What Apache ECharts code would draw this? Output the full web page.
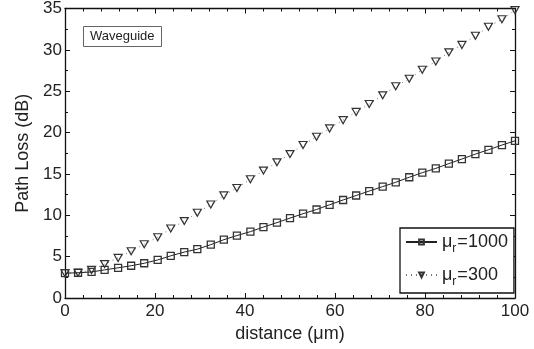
<!DOCTYPE html>
<html>
<head>
<meta charset="utf-8">
<script src="https://cdn.jsdelivr.net/npm/echarts@6/dist/echarts.min.js"></script>
<style>
  html, body { margin: 0; padding: 0; background: #fff; }
  #chart { width: 534px; height: 349px; }
</style>
</head>
<body>
<div id="chart"></div>
<script>
// sample positions along the guide (um)
const distance = [0, 2.9, 5.9, 8.8, 11.8, 14.7, 17.6, 20.6, 23.5, 26.5, 29.4, 32.4,
  35.3, 38.2, 41.2, 44.1, 47.1, 50, 52.9, 55.9, 58.8, 61.8, 64.7, 67.6, 70.6,
  73.5, 76.5, 79.4, 82.4, 85.3, 88.2, 91.2, 94.1, 97.1, 100]

// path loss (dB)
const lossMu1000 = [3.0, 3.05, 3.15, 3.4, 3.65, 3.9, 4.2, 4.6, 5.1, 5.55, 5.9, 6.45,
  7.05, 7.55, 8.02, 8.58, 9.11, 9.66, 10.19, 10.7, 11.27, 11.85, 12.39, 12.93, 13.47,
  13.99, 14.6, 15.15, 15.67, 16.25, 16.8, 17.4, 17.92, 18.49, 19.0]
const lossMu300 = [3.0, 3.05, 3.4, 4.1, 4.85, 5.65, 6.5, 7.35, 8.4, 9.3, 10.3, 11.3,
  12.4, 13.3, 14.35, 15.4, 16.4, 17.4, 18.5, 19.5, 20.5, 21.5, 22.5, 23.45, 24.5,
  25.6, 26.5, 27.6, 28.6, 29.7, 30.6, 31.7, 32.8, 33.7, 34.8]

const seriesNames = ['mu1000', 'mu300']
const legendValues = { mu1000: '1000', mu300: '300' }

const FONT = 'Liberation Sans, Arial, Helvetica, sans-serif'
const TEXT = '#222'

const chart = echarts.init(document.getElementById('chart'))

function pairs(xs, ys) {
  return xs.map((x, i) => [x, ys[i]])
}

const tickCommon = {
  axisLine: { show: true, onZero: false, lineStyle: { color: '#111', width: 1.3 } },
  axisTick: { show: true, inside: true, length: 5, lineStyle: { color: '#111', width: 1 } },
  minorTick: { show: true, length: 3, lineStyle: { color: '#111', width: 1 } },
  splitLine: { show: false }
}

const option = {
  animation: false,
  backgroundColor: '#fff',
  textStyle: { fontFamily: FONT, color: TEXT },
  title: {
    text: 'Waveguide',
    left: 83,
    top: 26,
    padding: [4, 7],
    borderColor: '#666',
    borderWidth: 1,
    textStyle: { fontFamily: FONT, fontSize: 13, fontWeight: 'normal', color: TEXT }
  },
  grid: { left: 65, right: 19, top: 7, bottom: 51 },
  legend: {
    data: seriesNames,
    orient: 'vertical',
    left: 400,
    top: 228,
    padding: [5, 6, 5, 5],
    itemGap: 11,
    itemWidth: 31,
    itemHeight: 6,
    backgroundColor: '#fff',
    borderColor: '#111',
    borderWidth: 1.3,
    borderRadius: 0,
    formatter: name => '{mu|\u03bc}{sub|r}{t|=' + legendValues[name] + '}',
    textStyle: {
      rich: {
        mu: { fontFamily: FONT, fontSize: 18, color: TEXT },
        sub: { fontFamily: FONT, fontSize: 12, color: TEXT, verticalAlign: 'bottom', padding: [14, 1, 0, 0] },
        t: { fontFamily: FONT, fontSize: 18, color: TEXT }
      }
    }
  },
  xAxis: [
    Object.assign({}, tickCommon, {
      type: 'value',
      min: 0,
      max: 100,
      interval: 20,
      minorTick: Object.assign({}, tickCommon.minorTick, { splitNumber: 5 }),
      name: 'distance (\u03bcm)',
      nameLocation: 'middle',
      nameGap: 26,
      nameTextStyle: { fontFamily: FONT, fontSize: 18, color: TEXT },
      axisLabel: { fontFamily: FONT, fontSize: 17, color: TEXT, margin: 5 }
    }),
    Object.assign({}, tickCommon, {
      type: 'value',
      position: 'top',
      min: 0,
      max: 100,
      interval: 20,
      minorTick: Object.assign({}, tickCommon.minorTick, { splitNumber: 5 }),
      axisLabel: { show: false }
    })
  ],
  yAxis: [
    Object.assign({}, tickCommon, {
      type: 'value',
      min: 0,
      max: 35,
      interval: 5,
      minorTick: Object.assign({}, tickCommon.minorTick, { splitNumber: 2 }),
      name: 'Path Loss (dB)',
      nameLocation: 'middle',
      nameGap: 33,
      nameTextStyle: { fontFamily: FONT, fontSize: 18, color: TEXT },
      axisLabel: { fontFamily: FONT, fontSize: 17, color: TEXT, margin: 3 }
    }),
    Object.assign({}, tickCommon, {
      type: 'value',
      position: 'right',
      min: 0,
      max: 35,
      interval: 5,
      minorTick: Object.assign({}, tickCommon.minorTick, { splitNumber: 2 }),
      axisLabel: { show: false }
    })
  ],
  series: [
    {
      name: 'mu1000',
      type: 'line',
      data: pairs(distance, lossMu1000),
      symbol: 'rect',
      symbolSize: 7,
      lineStyle: { color: '#222', width: 1 },
      itemStyle: { color: 'rgba(255,255,255,0)', borderColor: '#333', borderWidth: 1.3 },
      z: 3
    },
    {
      name: 'mu300',
      type: 'line',
      data: pairs(distance, lossMu300),
      symbol: 'triangle',
      symbolRotate: 180,
      symbolSize: [8, 7],
      lineStyle: { color: '#777', width: 1, type: [1, 4] },
      itemStyle: { color: 'rgba(255,255,255,0)', borderColor: '#333', borderWidth: 1.2 },
      z: 2
    }
  ]
}

chart.setOption(option)
</script>
</body>
</html>
